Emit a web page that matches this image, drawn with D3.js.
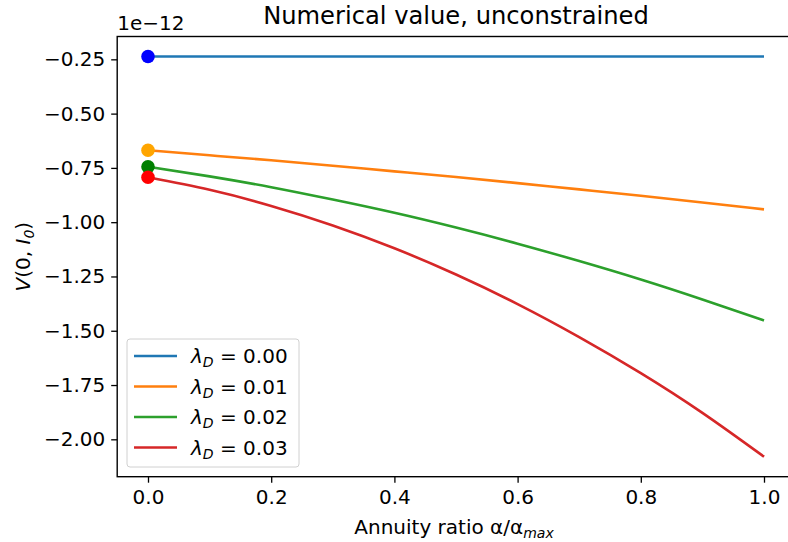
<!DOCTYPE html>
<html><head><meta charset="utf-8">
<script src="https://cdn.jsdelivr.net/npm/d3@7"></script>
<style>
body{margin:0;background:#fff;}
text{font-family:"DejaVu Sans",sans-serif;fill:#000;}
</style></head>
<body><svg id="c" width="788" height="542"></svg>
<script>
const xs = [0,0.1,0.2,0.3,0.4,0.5,0.6,0.7,0.8,0.9,1.0];
const lambdas = ["0.00","0.01","0.02","0.03"];
const v0 = [-0.237,-0.237,-0.237,-0.237,-0.237,-0.237,-0.237,-0.237,-0.237,-0.237,-0.237];
const v1 = [-0.669,-0.692,-0.715,-0.740,-0.766,-0.792,-0.820,-0.849,-0.878,-0.909,-0.941];
const v2 = [-0.745,-0.789,-0.839,-0.896,-0.957,-1.025,-1.099,-1.179,-1.264,-1.356,-1.453];
const v3 = [-0.793,-0.851,-0.925,-1.015,-1.120,-1.241,-1.377,-1.529,-1.695,-1.878,-2.080];
const lineColors = ["#1f77b4","#ff7f0e","#2ca02c","#d62728"];
const dotColors = ["blue","orange","green","red"];
const xTicks = [0,0.2,0.4,0.6,0.8,1.0];
const yTicks = [-0.25,-0.5,-0.75,-1.0,-1.25,-1.5,-1.75,-2.0];
const series = [v0,v1,v2,v3];

const svg = d3.select("#c");
const L=117.2, R=794.8, T=36.5, B=476.7;
const FS = "20px", SUB = "14px";
const allY = series.flat();
const yMin = d3.min(allY), yMax = d3.max(allY), yr = yMax-yMin;
const x = d3.scaleLinear().domain([-0.05,1.05]).range([L,R]);
const y = d3.scaleLinear().domain([yMin-0.05*yr, yMax+0.05*yr]).range([B,T]);

svg.append("defs").append("clipPath").attr("id","clip")
  .append("rect").attr("x",L).attr("y",T).attr("width",R-L).attr("height",B-T);

const line = d3.line().x((d,i)=>x(xs[i])).y(d=>y(d)).curve(d3.curveNatural);
const g = svg.append("g").attr("clip-path","url(#clip)");
series.forEach((s,k)=>{
  g.append("path").attr("d",line(s)).attr("fill","none")
   .attr("stroke",lineColors[k]).attr("stroke-width",2.6);
});
series.forEach((s,k)=>{
  svg.append("circle").attr("cx",x(xs[0])).attr("cy",y(s[0])).attr("r",6.8)
   .attr("fill",dotColors[k]);
});

// axes
const xa = svg.append("g").attr("transform",`translate(0,${B})`)
  .call(d3.axisBottom(x).tickValues(xTicks).tickFormat(d3.format(".1f")).tickSizeOuter(0).tickSize(6).tickPadding(7));
const ya = svg.append("g").attr("transform",`translate(${L},0)`)
  .call(d3.axisLeft(y).tickValues(yTicks).tickFormat(d=>d3.format(".2f")(d).replace("-","\u2212")).tickSizeOuter(0).tickSize(6).tickPadding(6));
[xa,ya].forEach(a=>{
  a.select(".domain").remove();
  a.selectAll("line").attr("stroke","#000").attr("stroke-width",1.3);
  a.selectAll("text").style("font-family","DejaVu Sans").style("font-size",FS).attr("fill","#000");
});
// spines
svg.append("rect").attr("x",L).attr("y",T).attr("width",R-L).attr("height",B-T)
  .attr("fill","none").attr("stroke","#000").attr("stroke-width",1.4);

// offset text
svg.append("text").attr("x",L).attr("y",30).style("font-size",FS).text("1e\u221212");
// title
svg.append("text").attr("x",(L+R)/2).attr("y",24).attr("text-anchor","middle")
  .style("font-size","24.2px").text("Numerical value, unconstrained");
// x label
const xl = svg.append("text").attr("x",(L+R)/2 - 2).attr("y",534).attr("text-anchor","middle").style("font-size",FS);
xl.append("tspan").text("Annuity ratio \u03b1/\u03b1");
xl.append("tspan").attr("dy",4).style("font-size",SUB).style("font-style","italic").text("max");
// y label
const yl = svg.append("text").attr("transform",`translate(30,${(T+B)/2}) rotate(-90)`).attr("text-anchor","middle").style("font-size",FS);
yl.append("tspan").style("font-style","italic").text("V");
yl.append("tspan").text("(0, ");
yl.append("tspan").style("font-style","italic").text("I");
yl.append("tspan").attr("dy",4).style("font-size",SUB).style("font-style","italic").text("0");
yl.append("tspan").attr("dy",-4).text(")");

// legend
const lg = svg.append("g");
lg.append("rect").attr("x",127).attr("y",339).attr("width",172).attr("height",128).attr("rx",3)
  .attr("fill","#fff").attr("fill-opacity",0.8).attr("stroke","#d0d0d0").attr("stroke-width",1);
lambdas.forEach((lam,k)=>{
  const cy = 356 + k*30.5;
  lg.append("line").attr("x1",134).attr("x2",177).attr("y1",cy).attr("y2",cy)
    .attr("stroke",lineColors[k]).attr("stroke-width",2.6);
  const t = lg.append("text").attr("x",191).attr("y",cy+7).style("font-size",FS);
  t.append("tspan").style("font-style","italic").text("\u03bb");
  t.append("tspan").attr("dy",4).style("font-size",SUB).style("font-style","italic").text("D");
  t.append("tspan").attr("dy",-4).text(" = "+lam);
});
</script></body></html>
